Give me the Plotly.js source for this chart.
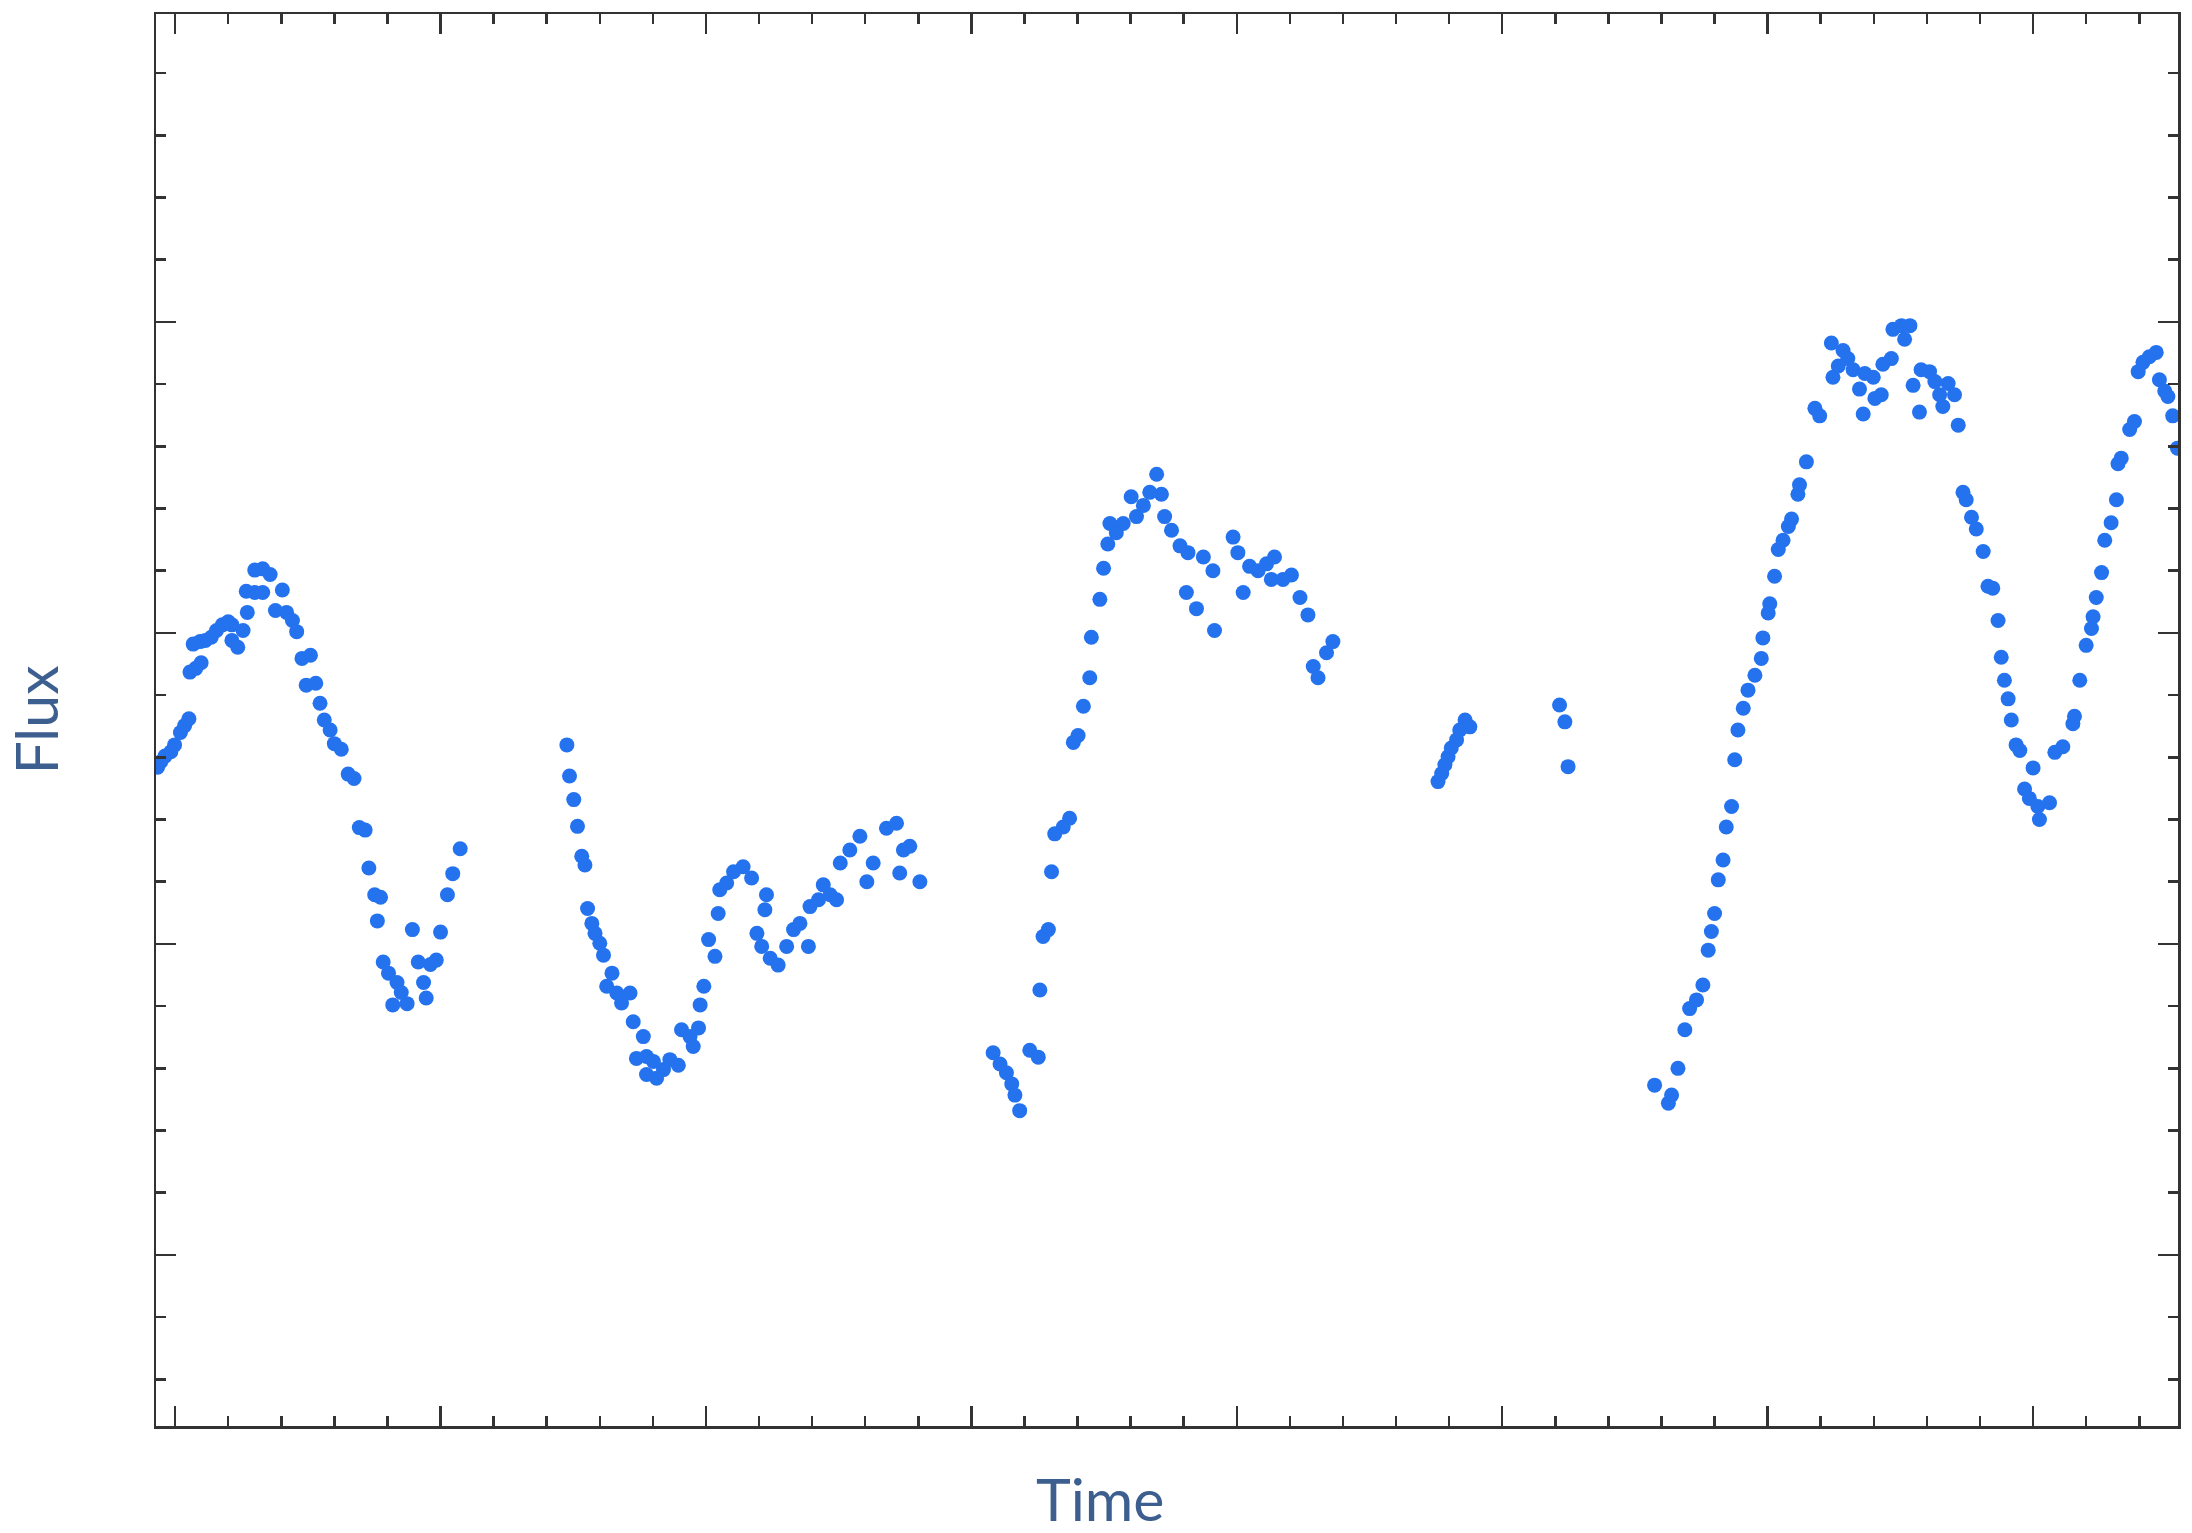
<!DOCTYPE html>
<html>
<head>
<meta charset="utf-8">
<script src="https://cdn.plot.ly/plotly-3.0.1.min.js"></script>
<style>
  html, body { margin: 0; padding: 0; background: #ffffff; }
  #chart { width: 2192px; height: 1533px; }
</style>
</head>
<body>
<div id="chart"></div>
<script>
const time = [
  -0.33, -0.27, -0.19, -0.08, -0.01, 0.10, 0.18, 0.26, 0.28, 0.39, 0.49, 0.34, 0.47, 0.57, 0.68, 0.78,
  0.89, 1.00, 1.07, 1.07, 1.18, 1.28, 1.36, 1.34, 1.50, 1.50, 1.65, 1.79, 1.65, 1.89, 2.02, 2.10,
  2.21, 2.29, 2.39, 2.55, 2.47, 2.65, 2.73, 2.81, 2.92, 3.00, 3.13, 3.26, 3.37, 3.47, 3.58, 3.65,
  3.76, 3.87, 3.81, 3.92, 4.02, 4.10, 4.18, 4.26, 4.37, 4.47, 4.58, 4.68, 4.73, 4.81, 4.92, 5.00,
  5.13, 5.23, 5.37,
  7.38, 7.43, 7.51, 7.58, 7.66, 7.72, 7.77, 7.85, 7.91, 8.00, 8.07, 8.23, 8.13, 8.32, 8.57, 8.41,
  8.63, 8.82, 8.69, 8.88, 9.01, 8.88, 9.07, 9.20, 9.32, 9.48, 9.54, 9.70, 9.76, 9.86, 9.89, 9.96,
  10.05, 10.17, 10.23, 10.26, 10.39, 10.52, 10.70, 10.86, 11.14, 11.11, 10.96, 11.05, 11.21, 11.36,
  11.52, 11.65, 11.77, 11.93, 11.96, 12.12, 12.21, 12.34, 12.46, 12.53, 12.71, 12.90, 13.03, 13.15,
  13.40, 13.59, 13.72, 13.84, 13.65, 14.03,
  15.41, 15.54, 15.66, 15.76, 15.82, 15.91, 16.10, 16.26, 16.29, 16.35, 16.45, 16.51, 16.57, 16.73,
  16.85, 16.92, 17.01, 17.11, 17.23, 17.26, 17.42, 17.49, 17.57, 17.61, 17.73, 17.86, 18.01, 18.11,
  18.24, 18.36, 18.49, 18.58, 18.64, 18.77, 18.93, 19.08, 19.05, 19.24, 19.37, 19.55, 19.58, 19.93,
  20.02, 20.12, 20.24, 20.40, 20.56, 20.71, 20.65, 20.87, 21.03, 21.19, 21.34, 21.81, 21.69, 21.44,
  21.53,
  23.79, 23.86, 23.92, 23.98, 24.04, 24.14, 24.20, 24.30, 24.39, 26.08, 26.18, 26.24,
  27.87, 28.13, 28.19, 28.31, 28.44, 28.53, 28.66, 28.78, 28.88, 28.94, 29.00, 29.07, 29.16, 29.22,
  29.32, 29.38, 29.44, 29.54, 29.63, 29.76, 29.88, 29.91, 30.01, 30.04, 30.13, 30.20, 30.29, 30.39,
  30.45, 30.57, 30.60, 30.73, 30.89, 30.98, 31.20, 31.23, 31.33, 31.42, 31.51, 31.61, 31.73, 31.83,
  31.80, 31.99, 32.02, 32.14, 32.17, 32.33, 32.36, 32.52, 32.68, 32.58, 32.74, 32.89, 33.05, 32.86,
  33.15, 33.24, 33.40, 33.30, 33.52, 33.59, 33.68, 33.74, 33.84, 33.93, 34.06, 34.15, 34.24, 34.34,
  34.40, 34.46, 34.53, 34.59, 34.68, 34.75, 35.00, 34.84, 34.93, 35.09, 35.12, 35.31, 35.41, 35.56,
  35.75, 35.78, 35.88, 36.00, 36.10, 36.13, 36.19, 36.29, 36.35, 36.47, 36.57, 36.60, 36.66, 36.82,
  36.91, 36.98, 37.07, 37.19, 37.32, 37.38, 37.48, 37.54, 37.63, 37.72
];
const flux = [
  7.84, 7.93, 8.02, 8.09, 8.20, 8.40, 8.51, 8.62, 9.37, 9.43, 9.52, 9.82, 9.86, 9.88, 9.93, 10.04,
  10.13, 10.18, 10.13, 9.88, 9.77, 10.04, 10.33, 10.67, 10.65, 11.01, 11.03, 10.94, 10.65, 10.36, 10.69, 10.33,
  10.20, 10.02, 9.59, 9.64, 9.16, 9.19, 8.87, 8.60, 8.44, 8.22, 8.13, 7.73, 7.66, 6.87, 6.83, 6.22,
  5.79, 5.75, 5.37, 4.71, 4.53, 4.02, 4.38, 4.22, 4.04, 5.23, 4.71, 4.38, 4.13, 4.67, 4.74, 5.19,
  5.79, 6.13, 6.53,
  8.20, 7.70, 7.32, 6.89, 6.41, 6.27, 5.57, 5.33, 5.17, 5.01, 4.82, 4.53, 4.32, 4.21, 4.21, 4.05,
  3.75, 3.51, 3.16, 3.19, 3.11, 2.90, 2.84, 2.98, 3.14, 3.05, 3.62, 3.51, 3.35, 3.65, 4.02, 4.32,
  5.07, 4.80, 5.49, 5.87, 5.98, 6.16, 6.24, 6.06, 5.79, 5.55, 5.17, 4.96, 4.77, 4.66,
  4.96, 5.23, 5.33, 4.96, 5.60, 5.71, 5.95, 5.79, 5.71, 6.30, 6.51, 6.73, 6.00, 6.30,
  6.86, 6.94, 6.51, 6.57, 6.14, 6.00,
  3.25, 3.07, 2.93, 2.75, 2.57, 2.32, 3.29, 3.18, 4.26, 5.12, 5.23, 6.16, 6.77, 6.88,
  7.02, 8.24, 8.35, 8.82, 9.28, 9.93, 10.54, 11.04, 11.43, 11.76, 11.61, 11.76, 12.19, 11.87,
  12.05, 12.26, 12.55, 12.23, 11.87, 11.65, 11.40, 11.29, 10.65, 10.39, 11.22, 11.00, 10.04, 11.54,
  11.29, 10.65, 11.07, 11.00, 11.11, 11.22, 10.86, 10.86, 10.93, 10.57, 10.29, 9.86, 9.68, 9.46,
  9.28,
  7.61, 7.74, 7.88, 8.01, 8.15, 8.28, 8.44, 8.60, 8.49, 8.84, 8.57, 7.85,
  2.73, 2.44, 2.57, 3.00, 3.62, 3.96, 4.10, 4.34, 4.90, 5.20, 5.49, 6.03, 6.35, 6.88,
  7.21, 7.96, 8.44, 8.79, 9.08, 9.32, 9.59, 9.92, 10.32, 10.47, 10.91, 11.34, 11.49, 11.71,
  11.83, 12.23, 12.38, 12.75, 13.61, 13.49, 14.66, 14.11, 14.29, 14.54, 14.41, 14.23, 13.92, 14.17,
  13.52, 14.11, 13.77, 13.83, 14.32, 14.41, 14.88, 14.94, 14.94, 14.72, 13.98, 14.23, 14.20, 13.55,
  14.04, 13.83, 14.01, 13.64, 13.83, 13.34, 12.26, 12.14, 11.86, 11.67, 11.31, 10.75, 10.72, 10.20,
  9.61, 9.24, 8.94, 8.60, 8.20, 8.11, 7.83, 7.49, 7.34, 7.21, 7.00, 7.27, 8.08, 8.17,
  8.54, 8.66, 9.24, 9.80, 10.07, 10.26, 10.57, 10.97, 11.49, 11.77, 12.14, 12.72, 12.81, 13.27,
  13.40, 14.20, 14.35, 14.44, 14.51, 14.07, 13.89, 13.80, 13.49, 12.97
];
const xTitle = 'Time';
const yTitle = 'Flux';

const axisColor = '#333333';
const titleFont = { family: 'Lato, "Open Sans", sans-serif', size: 59, color: '#3d5f8f' };

const trace = {
  type: 'scatter',
  mode: 'markers',
  x: time,
  y: flux,
  marker: { size: 15, color: '#2472ee', line: { width: 0 } },
  hoverinfo: 'x+y',
  showlegend: false
};

const layout = {
  width: 2192,
  height: 1533,
  paper_bgcolor: '#ffffff',
  plot_bgcolor: '#ffffff',
  margin: { l: 156, r: 14, t: 14, b: 107, pad: 0 },
  showlegend: false,
  xaxis: {
    range: [-0.36, 37.73],
    tick0: 0, dtick: 5,
    ticks: 'inside', ticklen: 20, tickwidth: 2.5, tickcolor: axisColor,
    minor: { dtick: 1, ticks: 'inside', ticklen: 10, tickwidth: 2.5, tickcolor: axisColor, showgrid: false },
    showticklabels: false,
    showgrid: false, zeroline: false,
    showline: true, linecolor: axisColor, linewidth: 2.5, mirror: 'allticks',
    title: { text: '' }
  },
  yaxis: {
    range: [-2.75, 19.95],
    tick0: 0, dtick: 5,
    ticks: 'inside', ticklen: 20, tickwidth: 2.5, tickcolor: axisColor,
    minor: { dtick: 1, ticks: 'inside', ticklen: 10, tickwidth: 2.5, tickcolor: axisColor, showgrid: false },
    showticklabels: false,
    showgrid: false, zeroline: false,
    showline: true, linecolor: axisColor, linewidth: 2.5, mirror: 'allticks',
    title: { text: yTitle, font: titleFont, standoff: 85 }
  },
  annotations: [{
    text: xTitle,
    xref: 'paper', yref: 'paper',
    x: 0.467, y: 0,
    xanchor: 'center', yanchor: 'top',
    yshift: -36,
    borderpad: 0,
    showarrow: false,
    font: titleFont
  }]
};

Plotly.newPlot('chart', [trace], layout, { displayModeBar: false, staticPlot: true });
</script>
</body>
</html>
